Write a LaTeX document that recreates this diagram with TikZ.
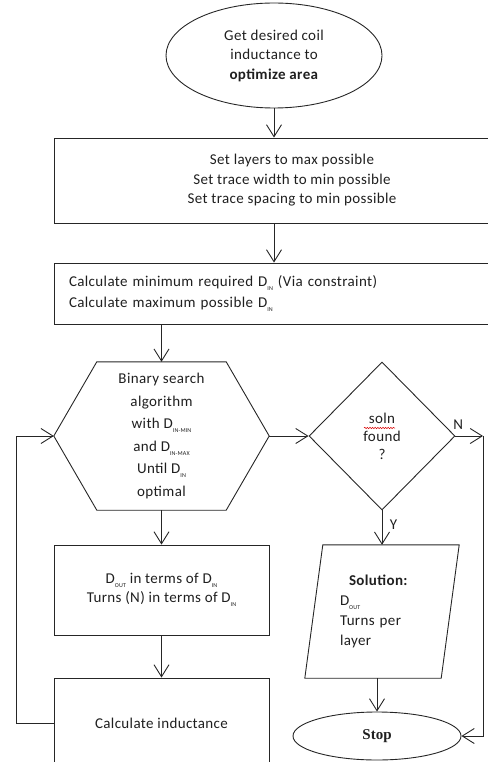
\documentclass[tikz,border=0pt]{standalone}
\usepackage{fontspec}
\setmainfont[LetterSpace=2.5]{Carlito}
\newfontfamily\stopfont{Liberation Serif}
\usetikzlibrary{arrows.meta,shapes.geometric,calc,decorations.pathmorphing,positioning}
\newcommand{\Dsub}[1]{D\raisebox{-0.55ex}{\fontsize{6}{6}\selectfont #1}}

\begin{document}
\begin{tikzpicture}[x=1pt,y=-1pt,
  line/.style={line width=0.9pt, black!85},
  flow/.style={line, -{Straight Barb[length=12pt,width=15pt,line width=0.9pt]}},
  txt/.style={font=\fontsize{15}{19.5}\selectfont, text=black!88, align=center},
  boxnode/.style={rectangle, draw, line, txt, inner sep=0pt},
  ghost/.style={rectangle, txt, inner sep=0pt}]
  \useasboundingbox (0,0) rectangle (487,762);
  \def\hx{43}
  \def\px{18}

  % top of the chart
  \node[ellipse, draw, line, txt, inner sep=0pt, minimum width=216pt, minimum height=105pt] (start) at (274,55.5)
    {Get desired coil\\inductance to\\\textbf{optimize area}};
  \node[boxnode, minimum width=476pt, minimum height=85pt] (setbox) at (292,180.5)
    {Set layers to max possible\\Set trace width to min possible\\Set trace spacing to min possible};
  \node[boxnode, minimum width=476pt, minimum height=61pt, text width=446pt, align=left] (calcbox) at (292,293.5)
    {Calculate minimum required \Dsub{IN} (Via constraint)\\[2pt]Calculate maximum possible \Dsub{IN}};

  % binary search hexagon
  \node[ghost, minimum width=215pt, minimum height=148pt, font=\fontsize{15}{22.5}\selectfont] (search) at (161.5,436)
    {Binary search\\algorithm\\with \Dsub{IN-MIN}\\and \Dsub{IN-MAX}\\Until \Dsub{IN}\\optimal};
  \draw[line] (search.west) -- ([xshift=\hx pt]search.north west) -- ([xshift=-\hx pt]search.north east)
    -- (search.east) -- ([xshift=-\hx pt]search.south east) -- ([xshift=\hx pt]search.south west) -- cycle;

  % decision
  \node[diamond, draw, line, txt, inner sep=0pt, minimum width=146pt, minimum height=148pt,
    font=\fontsize{15}{18}\selectfont] (soln) at (382,436) {soln\\found\\?};
  \draw[red!85!black, line width=0.5pt, decorate, decoration={snake, amplitude=0.7pt, segment length=2.6pt}]
    ($(soln.center)+(-18,-8)$) -- ++(31,0);

  % left column
  \node[boxnode, minimum width=215pt, minimum height=90pt] (dbox) at (161.5,590)
    {\Dsub{OUT} in terms of \Dsub{IN}\\Turns (N) in terms of \Dsub{IN}};
  \node[boxnode, minimum width=215pt, minimum height=90pt] (indbox) at (161.5,723)
    {Calculate inductance};

  % solution parallelogram
  \node[ghost, minimum width=154pt, minimum height=133pt, text width=84pt, align=left, font=\fontsize{15}{20}\selectfont] (sol) at (382,611.5)
    {\hspace*{9pt}\textbf{Solution:}\\\Dsub{OUT}\\Turns per\\layer};
  \draw[line] ([xshift=\px pt]sol.north west) -- (sol.north east) -- ([xshift=-\px pt]sol.south east) -- (sol.south west) -- cycle;

  \node[ellipse, draw, line, inner sep=0pt, minimum width=168pt, minimum height=48pt,
    font=\stopfont\bfseries\fontsize{15}{16}\selectfont, text=black!88] (stop) at (377,736) {Stop};

  % connectors
  \coordinate (nturn) at (483,436);
  \draw[flow] (start.south) -- (start.south |- setbox.north);
  \draw[flow] (start.south |- setbox.south) -- (start.south |- calcbox.north);
  \draw[flow] (search.north |- calcbox.south) -- (search.north);
  \draw[flow] (search.east) -- (soln.west);
  \draw[flow] (search.south) -- (dbox.north);
  \draw[flow] (dbox.south) -- (indbox.north);
  \draw[flow] (indbox.west) -- ++(-37,0) |- (search.west);
  \draw[flow] (soln.south) -- (soln.south |- sol.north) node[pos=0.4, right=4pt, txt] (ylab) {Y};
  \draw[flow] (soln.east) -- (nturn) node[pos=0.1, above=3pt, txt] (nlab) {N};
  \draw[flow] (nturn) |- (stop.east);
  \draw[flow] (stop.north |- sol.south) -- (stop.north);
\end{tikzpicture}
\end{document}
